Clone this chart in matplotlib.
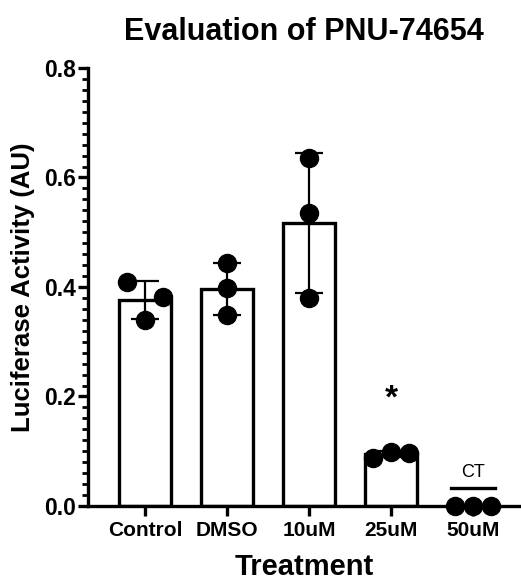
import numpy as np
import matplotlib
matplotlib.use("Agg")
import matplotlib.pyplot as plt
from matplotlib.ticker import MultipleLocator

plt.rcParams['font.family'] = ['Liberation Sans', 'DejaVu Sans']

# Treatment groups and replicate measurements
categories = ["Control", "DMSO", "10uM", "25uM", "50uM"]
replicates = [
    [0.409, 0.382, 0.340],
    [0.444, 0.398, 0.349],
    [0.635, 0.535, 0.380],
    [0.088, 0.099, 0.097],
    [0.000, 0.000, 0.000],
]
# horizontal spread of overlapping points within each group
point_offsets = [
    [-0.22, 0.22, 0.0],
    [0.0, 0.0, 0.0],
    [0.0, 0.0, 0.0],
    [-0.22, 0.0, 0.22],
    [-0.22, 0.0, 0.22],
]
show_bar = [True, True, True, True, False]
annotations = {"25uM": "*", "50uM": "CT"}

means = [np.mean(r) for r in replicates]
sds = [np.std(r, ddof=1) for r in replicates]

fig = plt.figure(figsize=(5.21, 5.82), dpi=100)
ax = fig.add_axes([0.169, 0.1306, 0.829, 0.7526])

x = np.arange(len(categories))
for i in range(len(categories)):
    if show_bar[i]:
        ax.bar(x[i], means[i], width=0.64, facecolor="white", edgecolor="black",
               linewidth=2.4, zorder=2)
        ax.errorbar(x[i], means[i], yerr=sds[i], fmt="none", ecolor="black",
                    elinewidth=1.6, capsize=10, capthick=1.6, zorder=3)
    ax.plot(x[i] + np.array(point_offsets[i]), replicates[i], "o", color="black",
            markersize=13, zorder=4, clip_on=False)

i25 = categories.index("25uM")
ax.text(x[i25], means[i25] + 0.1, annotations["25uM"], ha="center", va="center",
        fontsize=24, fontweight="bold")
i50 = categories.index("50uM")
ax.plot([x[i50] - 0.27, x[i50] + 0.27], [0.033, 0.033], color="black", lw=2.4)
ax.text(x[i50], 0.062, annotations["50uM"], ha="center", va="center", fontsize=13)

ax.set_xlim(-0.695, 4.573)
ax.set_ylim(0, 0.8)
ax.set_xticks(x)
ax.set_xticklabels(categories, fontsize=15, fontweight="bold")
ax.yaxis.set_minor_locator(MultipleLocator(0.02))
ax.set_yticks([0.0, 0.2, 0.4, 0.6, 0.8])
ax.set_yticklabels(["0.0", "0.2", "0.4", "0.6", "0.8"], fontsize=16.5, fontweight="bold")
ax.tick_params(axis="both", which="major", length=7, width=2.4, color="black", pad=4)
ax.tick_params(axis="y", which="major", pad=2)
ax.tick_params(axis="y", which="minor", length=4, width=2.0)

for side in ["top", "right"]:
    ax.spines[side].set_visible(False)
for side in ["left", "bottom"]:
    ax.spines[side].set_linewidth(2.4)

ax.set_ylabel("Luciferase Activity (AU)", fontsize=18.5, fontweight="bold", labelpad=6)
ax.set_xlabel("Treatment", fontsize=21, fontweight="bold", labelpad=9)
ax.set_title("Evaluation of PNU-74654", fontsize=22, fontweight="bold", pad=20)

fig.savefig("out.png", dpi=100)
